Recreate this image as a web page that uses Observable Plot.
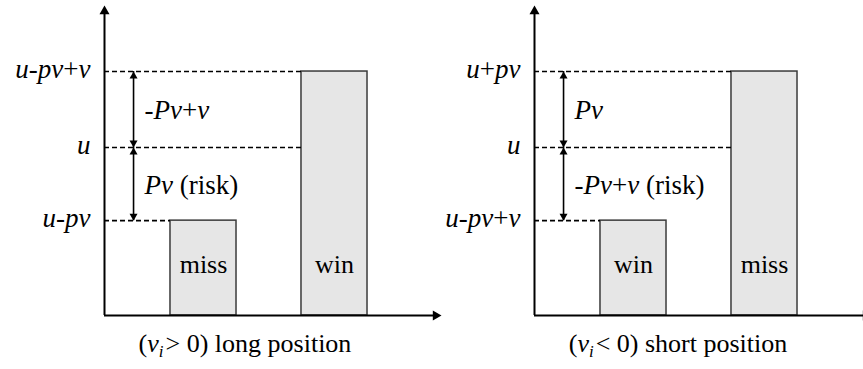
<!DOCTYPE html>
<html><head><meta charset="utf-8">
<script src="https://cdn.jsdelivr.net/npm/d3@7"></script>
<script src="https://cdn.jsdelivr.net/npm/@observablehq/plot@0.6"></script>
<style>
html,body{margin:0;padding:0;background:#fff;overflow:hidden;}
#wrap{position:relative;width:863px;height:369px;overflow:hidden;background:#fff;}
.panel{position:absolute;top:0;}
.panel text{font-family:"Liberation Serif","Times New Roman","DejaVu Serif",serif;}
.cap{position:absolute;top:330px;font-family:"Liberation Serif","Times New Roman","DejaVu Serif",serif;font-size:26px;line-height:28px;text-align:center;white-space:nowrap;color:#000;}
.cap sub{font-size:0.65em;vertical-align:-0.3em;line-height:0;margin-right:2px;}
</style></head><body>
<div id="wrap"></div>
<script>
// ---- data ----
const panelNames = ["long", "short"];
const levelValues = [3.06, 5.42, 7.87];            // low, u, high
const longLevelLabels = ["u-pv", "u", "u-pv+v"];
const shortLevelLabels = ["u-pv+v", "u", "u+pv"];
const barHeights = [3.06, 7.87];
const longBarLabels = ["miss", "win"];
const shortBarLabels = ["win", "miss"];
const longSpanLabels = ["Pv (risk)", "-Pv+v"];
const shortSpanLabels = ["-Pv+v (risk)", "Pv"];
const longCaption = '(<i>v</i><sub><i>i</i></sub>&gt; 0) long position';
const shortCaption = '(<i>v</i><sub><i>i</i></sub>&lt; 0) short position';
const axisTop = 10;

// ---- layout constants (scale units) ----
const X0 = 0.2443, X1 = 2.8168;
const HALF = 0.252, ARROW_X = 0.466, BAR_LABEL_Y = 1.65;
const SERIF = "'Liberation Serif', 'Times New Roman', 'DejaVu Serif', serif";

function makePanel(levelLabels, barLabels, spanLabels) {
  const bars = barLabels.map((label, i) => ({label, slot: i + 1, value: barHeights[i]}));
  const levels = levelLabels.map((label, i) => {
    const v = levelValues[i];
    const b = bars.find(b => b.value >= v - 1e-9);
    return {label, value: v, end: b.slot - HALF};
  });
  const spans = spanLabels.map((label, i) => ({label, lo: levelValues[i], hi: levelValues[i + 1]}));
  const sSmall = 8, hSmall = sSmall * Math.sqrt(3) / 2;
  const rSmall = Math.sqrt((Math.sqrt(3) / 4 * sSmall * sSmall) / Math.PI);
  const sBig = 10, hBig = sBig * Math.sqrt(3) / 2;
  const rBig = Math.sqrt((Math.sqrt(3) / 4 * sBig * sBig) / Math.PI);

  const svg = Plot.plot({
    width: 445, height: 325,
    marginLeft: 104, marginRight: 4, marginTop: 5, marginBottom: 10,
    x: {domain: [X0, X1], axis: null},
    y: {domain: [0, axisTop], axis: null},
    style: {background: "transparent", overflow: "visible", maxWidth: "none", fontFamily: SERIF},
    marks: [
      Plot.rectY(bars, {x1: d => d.slot - HALF, x2: d => d.slot + HALF, y1: 0, y2: "value",
        fill: "#e6e6e6", stroke: "#3a3a3a", strokeWidth: 1.5}),
      Plot.ruleY(levels, {y: "value", x1: X0, x2: "end", stroke: "#000", strokeWidth: 1.6, strokeDasharray: "5,3"}),
      Plot.ruleX(spans, {x: ARROW_X, y1: "lo", y2: "hi", stroke: "#000", strokeWidth: 1.6}),
      Plot.dot(spans, {x: ARROW_X, y: "hi", symbol: "triangle", r: rSmall, fill: "#000", stroke: "none", dy: hSmall * 2 / 3}),
      Plot.dot(spans, {x: ARROW_X, y: "lo", symbol: "triangle", r: rSmall, fill: "#000", stroke: "none", rotate: 180, dy: -hSmall * 2 / 3}),
      Plot.ruleX([X0], {y1: 0, y2: axisTop - 0.2, stroke: "#000", strokeWidth: 2}),
      Plot.ruleY([0], {x1: X0, x2: X1 - 0.02, stroke: "#000", strokeWidth: 2}),
      Plot.dot([axisTop], {x: X0, y: d => d, symbol: "triangle", r: rBig, fill: "#000", stroke: "none", dy: hBig * 2 / 3}),
      Plot.dot([X1], {x: d => d, y: 0, symbol: "triangle", r: rBig, fill: "#000", stroke: "none", rotate: 90, dx: -hBig * 2 / 3}),
      Plot.text(levels, {x: X0, y: "value", text: "label", textAnchor: "end", dx: -14, dy: -2,
        fontFamily: SERIF, fontSize: 27, fontStyle: "italic", fill: "#000"}),
      Plot.text(bars, {x: "slot", y: BAR_LABEL_Y, text: "label", fontFamily: SERIF, fontSize: 26, fill: "#000"}),
      Plot.text(spans, {x: ARROW_X, y: d => (d.lo + d.hi) / 2, text: "label", textAnchor: "start", dx: 11, dy: 1,
        fontFamily: SERIF, fontSize: 27, fontStyle: "italic", fill: "#000"})
    ]
  });
  // upright "+" and "(risk)" inside italic labels
  d3.select(svg).selectAll("text").each(function () {
    const t = this.textContent;
    const parts = t.split(/(\+| \(risk\))/).filter(s => s);
    if (parts.length < 2) return;
    const sel = d3.select(this);
    sel.text(null);
    parts.forEach(p => sel.append("tspan")
      .attr("font-style", (p === "+" || p === " (risk)") ? "normal" : null)
      .text(p));
  });
  return svg;
}

const wrap = document.getElementById("wrap");
const cfg = {
  long: {levels: longLevelLabels, bars: longBarLabels, spans: longSpanLabels, caption: longCaption, left: 0},
  short: {levels: shortLevelLabels, bars: shortBarLabels, spans: shortSpanLabels, caption: shortCaption, left: 430}
};
panelNames.forEach(name => {
  const c = cfg[name];
  const svg = makePanel(c.levels, c.bars, c.spans);
  svg.classList.add("panel");
  svg.style.left = c.left + "px";
  svg.style.position = "absolute";
  svg.style.top = "0px";
  wrap.appendChild(svg);
  const cap = document.createElement("div");
  cap.className = "cap";
  cap.style.left = (c.left) + "px";
  cap.style.width = (name === "long" ? 490 : 496) + "px";
  cap.innerHTML = c.caption;
  wrap.appendChild(cap);
});
</script>
</body></html>
